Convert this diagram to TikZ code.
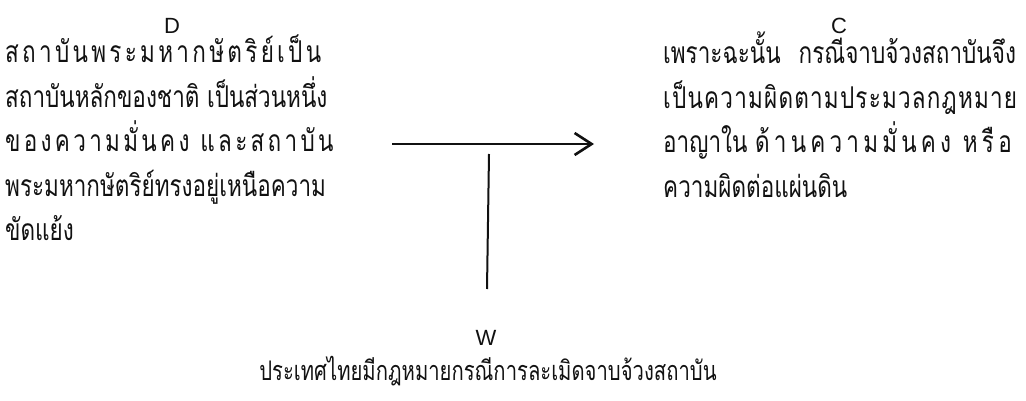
\documentclass[tikz,border=0pt]{standalone}
\usepackage{fontspec}
\setmainfont{Liberation Sans}
\newfontfamily\thaifont[Script=Thai, FakeStretch=0.75]{Loma}
\newfontfamily\thaiwide[Script=Thai, FakeStretch=0.75, LetterSpace=11]{Loma}
\newfontfamily\thaispread[Script=Thai, FakeStretch=0.75, LetterSpace=14]{Loma}
\newfontfamily\thaimid[Script=Thai, FakeStretch=0.75, LetterSpace=4]{Loma}
\usepackage{tikz}
\usetikzlibrary{arrows.meta, positioning}
\definecolor{inkcolor}{HTML}{111111}

\tikzset{
  partlabel/.style={font=\fontsize{22}{24}\selectfont, color=inkcolor, inner sep=0pt},
  thaiblock/.style={font=\thaifont\fontsize{30}{44.5}\selectfont, color=inkcolor,
    align=left, inner sep=0pt, anchor=north west},
  thailine/.style={font=\thaifont\fontsize{27}{30}\selectfont, color=inkcolor, inner sep=0pt}
}

\begin{document}
\begin{tikzpicture}[x=1pt, y=-1pt]
  \useasboundingbox (0,0) rectangle (1026,401);
  % data
  \node[partlabel] (dlabel) at (172,26) {D};
  \node[thaiblock] (dtext) at (5,35) {%
    {\thaiwide สถาบันพระมหากษัตริย์เป็น}\\
    สถาบันหลักของชาติ เป็นส่วนหนึ่ง\\
    {\thaiwide ของความมั่นคง และสถาบัน}\\
    พระมหากษัตริย์ทรงอยู่เหนือความ\\
    ขัดแย้ง};
  % claim
  \node[partlabel] (clabel) at (839,26) {C};
  \node[thaiblock] (ctext) at (663,32) {%
    เพราะฉะนั้น\hspace{18pt}กรณีจาบจ้วงสถาบันจึง\\
    {\thaimid เป็นความผิดตามประมวลกฎหมาย}\\
    อาญาใน {\thaispread ด้านความมั่นคง หรือ}\\
    ความผิดต่อแผ่นดิน};
  % warrant
  \node[partlabel] (wlabel) at (486,338) {W};
  \node[thailine] (wtext) at (488,371) {ประเทศไทยมีกฎหมายกรณีการละเมิดจาบจ้วงสถาบัน};

  \coordinate (arrowstart) at (392,144);
  \coordinate (arrowend) at (594,144);
  \coordinate (warranttop) at (489,154);
  \coordinate (warrantfoot) at (487,289);
  \draw[-{Straight Barb[length=17pt, width=22pt]}, line width=2.6pt, inkcolor]
    (arrowstart) -- (arrowend);
  \draw[line width=2pt, inkcolor] (warranttop) -- (warrantfoot);
\end{tikzpicture}
\end{document}
